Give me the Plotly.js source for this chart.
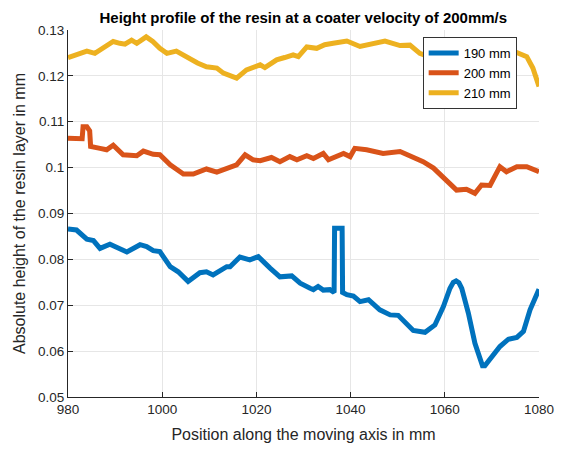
<!DOCTYPE html>
<html>
<head>
<meta charset="utf-8">
<script src="https://cdn.plot.ly/plotly-3.0.1.min.js"></script>
<style>html,body{margin:0;padding:0;background:#fff;}#chart{width:568px;height:449px;}</style>
</head>
<body>
<div id="chart"></div>
<script>
// Series 210 mm (yellow)
const x210 = [980, 981.5, 983, 984, 985.7, 987.5, 989.6, 991, 992.1, 993.5, 994.6, 996.6, 998, 999.5, 1001, 1003, 1004.5, 1005.9, 1007.5, 1009.4, 1011.6, 1013, 1015.8, 1017.9, 1020.8, 1021.8, 1024.3, 1026, 1027.8, 1028.9, 1030.7, 1032.8, 1034.5, 1036.3, 1039.2, 1042, 1044.8, 1047.3, 1050.5, 1052.6, 1054.7, 1057, 1060, 1063, 1066, 1069, 1072, 1075, 1077.4, 1078.7, 1080];
const y210 = [0.1240, 0.1245, 0.1250, 0.1254, 0.1249, 0.1262, 0.1275, 0.1271, 0.1269, 0.1278, 0.1271, 0.1285, 0.1275, 0.1260, 0.1249, 0.1254, 0.1245, 0.1235, 0.1228, 0.1220, 0.1217, 0.1206, 0.1195, 0.1213, 0.1224, 0.1218, 0.1235, 0.1240, 0.1246, 0.1242, 0.1263, 0.1260, 0.1268, 0.1271, 0.1276, 0.1264, 0.1269, 0.1276, 0.1266, 0.1267, 0.1249, 0.1240, 0.1245, 0.1250, 0.1255, 0.1252, 0.1250, 0.1252, 0.1242, 0.1217, 0.1177];

// Series 200 mm (orange)
const x200 = [980, 981.5, 983.0, 983.2, 984, 984.6, 984.8, 986.8, 988.2, 989.6, 991.7, 994.6, 996, 998.1, 999.5, 1001.7, 1004.5, 1006.6, 1009.4, 1011.6, 1014.4, 1015.8, 1017.6, 1019.3, 1020.8, 1023.2, 1025, 1027.1, 1028.6, 1030.7, 1032.1, 1034.2, 1035.3, 1038.5, 1039.9, 1040.9, 1043.4, 1046.9, 1050.5, 1053.3, 1055.4, 1057.6, 1059.7, 1062.5, 1064.6, 1066.4, 1067.8, 1069.6, 1071.7, 1073.1, 1075.3, 1077.4, 1080];
const y200 = [0.1064, 0.1064, 0.1063, 0.1089, 0.1089, 0.1080, 0.1046, 0.1042, 0.1039, 0.1049, 0.1028, 0.1026, 0.1036, 0.1029, 0.1028, 0.1006, 0.0986, 0.0986, 0.0997, 0.0990, 0.1002, 0.1006, 0.1028, 0.1017, 0.1015, 0.1022, 0.1013, 0.1024, 0.1017, 0.1026, 0.1020, 0.1031, 0.1017, 0.1031, 0.1024, 0.1042, 0.1039, 0.1031, 0.1035, 0.1024, 0.1013, 0.0999, 0.0977, 0.0951, 0.0953, 0.0944, 0.0962, 0.0961, 0.1002, 0.0991, 0.1002, 0.1002, 0.0991];

// Series 190 mm (blue)
const x190 = [980, 981.8, 984, 985.4, 986.8, 988.9, 992.5, 995.3, 996.7, 998.1, 999.5, 1001.7, 1003.4, 1005.5, 1008, 1009.4, 1010.8, 1013.7, 1014.4, 1016.5, 1018.6, 1020.4, 1022.9, 1025, 1027.5, 1029.3, 1031.4, 1032.1, 1033.1, 1034.2, 1035.6, 1036.5, 1036.6, 1038.2, 1038.3, 1039.2, 1040.6, 1042, 1043.8, 1046.2, 1048.4, 1050.1, 1053.3, 1055.8, 1057.9, 1059.7, 1061.1, 1061.8, 1062.4, 1063.0, 1063.6, 1065, 1066.4, 1067.5, 1068.0, 1068.5, 1070, 1071.7, 1073.5, 1075.3, 1076.7, 1078.1, 1080];
const y190 = [0.0866, 0.0864, 0.0844, 0.0841, 0.0824, 0.0833, 0.0816, 0.0832, 0.0828, 0.0819, 0.0817, 0.0784, 0.0773, 0.0752, 0.0771, 0.0773, 0.0766, 0.0784, 0.0784, 0.0805, 0.0799, 0.0806, 0.0781, 0.0762, 0.0764, 0.0748, 0.0737, 0.0734, 0.0741, 0.0733, 0.0734, 0.0728, 0.0868, 0.0868, 0.0728, 0.0723, 0.0720, 0.0708, 0.0712, 0.0690, 0.0679, 0.0678, 0.0645, 0.0641, 0.0657, 0.0697, 0.0737, 0.0750, 0.0753, 0.0749, 0.0737, 0.0683, 0.0617, 0.0578, 0.0568, 0.0568, 0.0588, 0.0610, 0.0626, 0.0630, 0.0643, 0.0690, 0.0735];

const seriesNames = ["190 mm", "200 mm", "210 mm"];
const xTicks = [980, 1000, 1020, 1040, 1060, 1080];
const xTickText = ["980", "1000", "1020", "1040", "1060", "1080"];
const yTicks = [0.05, 0.06, 0.07, 0.08, 0.09, 0.1, 0.11, 0.12, 0.13];
const yTickText = ["0.05", "0.06", "0.07", "0.08", "0.09", "0.1", "0.11", "0.12", "0.13"];

const colors = ["#0072BD", "#D95319", "#EDB120"];
const FONT = "Liberation Sans, Arial, Helvetica, sans-serif";

const traces = [
  {x: x190, y: y190, name: seriesNames[0], mode: "lines", line: {color: colors[0], width: 5}},
  {x: x200, y: y200, name: seriesNames[1], mode: "lines", line: {color: colors[1], width: 5}},
  {x: x210, y: y210, name: seriesNames[2], mode: "lines", line: {color: colors[2], width: 5}}
];

const layout = {
  width: 568, height: 449,
  margin: {l: 68, r: 29, t: 30, b: 52},
  paper_bgcolor: "#fff", plot_bgcolor: "#fff",
  font: {family: FONT, color: "#262626", size: 13},
  title: {text: "<b>Height profile of the resin at a coater velocity of 200mm/s</b>", font: {family: FONT, size: 15, color: "#000"}, x: 0.534, xanchor: "center", y: 0.96, yanchor: "middle"},
  xaxis: {
    range: [980, 1080], tickvals: xTicks, ticktext: xTickText,
    showgrid: true, gridcolor: "#e6e6e6", gridwidth: 1,
    zeroline: false, showline: true, linecolor: "#262626", linewidth: 1, mirror: false,
    ticks: "inside", ticklen: 5, tickcolor: "#262626",
    tickfont: {size: 13.5, color: "#262626"},
    title: {text: "Position along the moving axis in mm", font: {size: 16, color: "#262626"}, standoff: 12}
  },
  yaxis: {
    range: [0.05, 0.13], tickvals: yTicks, ticktext: yTickText,
    showgrid: true, gridcolor: "#e6e6e6", gridwidth: 1,
    zeroline: false, showline: true, linecolor: "#262626", linewidth: 1, mirror: false,
    ticks: "inside", ticklen: 5, tickcolor: "#262626",
    tickfont: {size: 13.5, color: "#262626"},
    title: {text: "Absolute height of the resin layer in mm", font: {size: 16, color: "#262626"}, standoff: 8}
  },
  showlegend: true,
  legend: {
    x: 0.753, y: 0.981, xanchor: "left", yanchor: "top",
    bgcolor: "#fff", bordercolor: "#333", borderwidth: 1,
    font: {size: 13, color: "#000"}, tracegroupgap: 0, itemwidth: 30
  }
};

Plotly.newPlot("chart", traces, layout, {displayModeBar: false, staticPlot: true});
</script>
</body>
</html>
